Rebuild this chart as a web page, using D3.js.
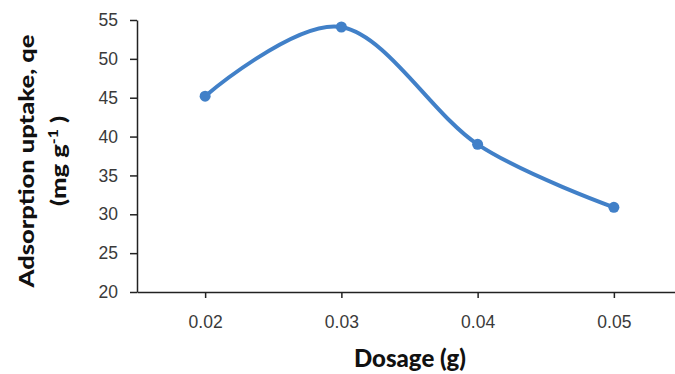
<!DOCTYPE html>
<html>
<head>
<meta charset="utf-8">
<script src="https://cdn.jsdelivr.net/npm/d3@7"></script>
<style>
  html, body { margin: 0; padding: 0; background: #fff; }
</style>
</head>
<body>
<div id="chart"></div>
<script>
// values
const dosages = ["0.02", "0.03", "0.04", "0.05"];
const uptake = [45.2, 54.1, 39.0, 30.9];
const yTicks = [20, 25, 30, 35, 40, 45, 50, 55];

const width = 675, height = 374;
// the category band runs a little past the right edge, as in the original
const margin = { left: 137, right: -7, top: 20, bottom: 82 };

const svg = d3.select("#chart").append("svg")
    .attr("width", width)
    .attr("height", height)
    .attr("font-family", "Lato, 'Open Sans', sans-serif");

const x = d3.scalePoint()
    .domain(dosages)
    .range([margin.left, width - margin.right])
    .padding(0.5);

const y = d3.scaleLinear()
    .domain([20, 55])
    .range([height - margin.bottom, margin.top]);

// y axis
const yAxis = svg.append("g")
    .attr("transform", `translate(${margin.left},0)`)
    .call(d3.axisLeft(y).tickValues(yTicks).tickSize(7).tickPadding(12).tickSizeOuter(0));
yAxis.select(".domain").attr("stroke", "#222").attr("stroke-width", 1.5);
yAxis.selectAll(".tick line").attr("stroke", "#222").attr("stroke-width", 1.5);
yAxis.selectAll(".tick text").attr("font-size", 17.5).attr("fill", "#3a3a3a");

// x axis
const xAxis = svg.append("g")
    .attr("transform", `translate(0,${y(20)})`)
    .call(d3.axisBottom(x).tickSize(6).tickPadding(18).tickSizeOuter(0));
xAxis.select(".domain").attr("stroke", "#222").attr("stroke-width", 1.5);
xAxis.selectAll(".tick line").attr("stroke", "#222").attr("stroke-width", 1.5);
xAxis.selectAll(".tick text").attr("font-size", 17.5).attr("fill", "#3a3a3a");

// axis titles
svg.append("text")
    .attr("x", 410)
    .attr("y", 367)
    .attr("text-anchor", "middle")
    .attr("font-size", 24)
    .attr("font-weight", 900)
    .attr("fill", "#111")
    .text("Dosage (g)");

const yTitle = svg.append("text")
    .attr("text-anchor", "middle")
    .attr("font-size", 21)
    .attr("font-weight", 900)
    .attr("fill", "#111");
const line1 = yTitle.append("tspan").attr("x", 0).attr("y", 0).text("Adsorption uptake, qe");
const line2 = yTitle.append("tspan").attr("x", 0).attr("y", 32);
line2.append("tspan").text("(mg g");
line2.append("tspan").attr("dy", -8).attr("font-size", 13).text("-1");
line2.append("tspan").attr("dy", 8).text(" )");

// the original title is stretched along its length; match its span (~253px)
const len = line1.node().getComputedTextLength() || 253;
const sx = Math.min(1.3, Math.max(1, 253 / len));
yTitle.attr("transform", `translate(34,161) rotate(-90) scale(${sx},1)`);

// smoothed series
const line = d3.line()
    .x((d, i) => x(dosages[i]))
    .y(d => y(d))
    .curve(d3.curveCardinal.tension(0));

const blue = "#4180c8";

svg.append("path")
    .datum(uptake)
    .attr("fill", "none")
    .attr("stroke", blue)
    .attr("stroke-width", 4)
    .attr("d", line);

svg.append("g")
  .selectAll("circle")
  .data(uptake)
  .join("circle")
    .attr("cx", (d, i) => x(dosages[i]))
    .attr("cy", d => y(d))
    .attr("r", 5.5)
    .attr("fill", blue);
</script>
</body>
</html>
